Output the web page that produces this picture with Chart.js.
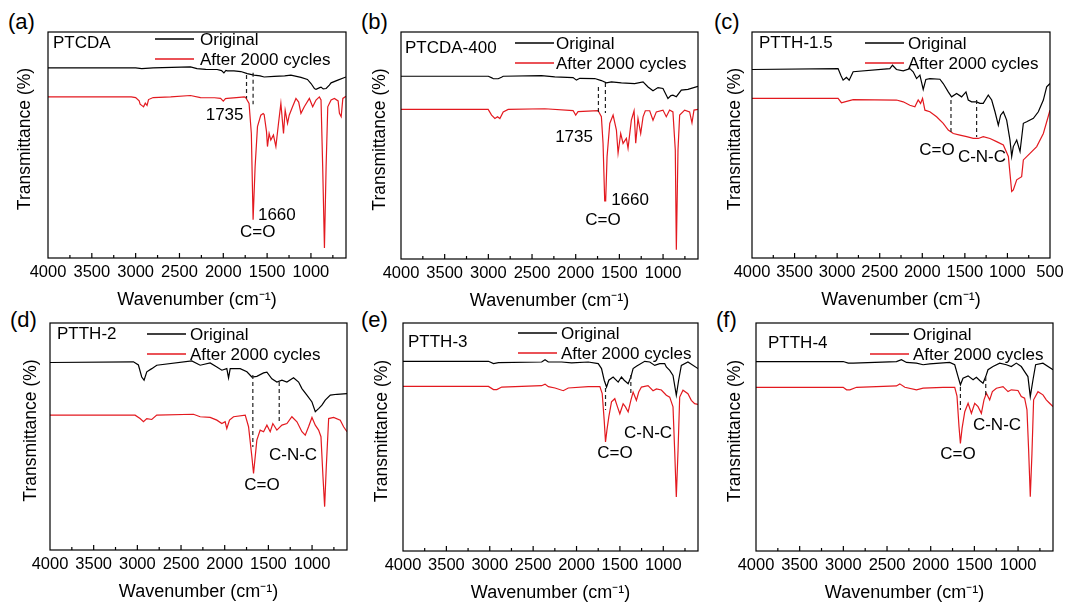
<!DOCTYPE html>
<html>
<head>
<meta charset="utf-8">
<script src="https://cdn.jsdelivr.net/npm/chart.js@4.4.0/dist/chart.umd.min.js"></script>
<style>
  body { margin: 0; background: #fff; width: 1067px; height: 606px; position: relative; overflow: hidden;
         font-family: "Liberation Sans", Arial, Helvetica, sans-serif; }
  canvas { position: absolute; }
  .tag { position: absolute; font-size: 22px; line-height: 22px; color: #000; }
</style>
</head>
<body>
<div class="tag" style="left:8px;top:11px">(a)</div>
<div class="tag" style="left:361px;top:11px">(b)</div>
<div class="tag" style="left:714px;top:11px">(c)</div>
<div class="tag" style="left:10px;top:309px">(d)</div>
<div class="tag" style="left:361px;top:309px">(e)</div>
<div class="tag" style="left:716px;top:309px">(f)</div>

<script>
const FONT = '"Liberation Sans", Arial, Helvetica, sans-serif';
const RED = "#e3191f";

// legend + axis text
const legendLabels = ["Original", "After 2000 cycles"];
const xTitle = "Wavenumber (cm\u207B\u00B9)";
const yTitle = "Transmittance (%)";
const xTicks = [4000, 3500, 3000, 2500, 2000, 1500, 1000];
const xTicksWide = [4000, 3500, 3000, 2500, 2000, 1500, 1000, 500];

// (a) PTCDA  [wavenumber, transmittance (arb.)]
const origA = [[4000,84.1],[3000,84.1],[2930,83.8],[2800,84.1],[2375,84.6],[2300,83.8],[2200,83.5],[2070,83.4],
  [2020,82.9],[1993,81.9],[1970,83.0],[1955,82.8],[1878,82.8],[1800,82.5],[1726,81.6],[1649,80.9],[1580,80.6],
  [1534,80.1],[1420,80.4],[1300,80.6],[1229,80.9],[1114,79.9],[1040,79.0],[999,77.2],[960,75.0],[942,74.6],
  [900,75.4],[885,75.6],[860,74.8],[827,75.0],[790,76.5],[770,77.5],[693,78.7],[600,80.1]];
const afterA = [[4000,71.3],[3050,71.3],[3000,71.0],[2960,69.5],[2949,68.1],[2920,67.2],[2910,66.9],[2890,68.5],
  [2870,67.5],[2853,70.1],[2800,71.0],[2600,71.3],[2375,71.9],[2260,71.0],[2100,70.9],[2031,70.6],[2000,69.4],
  [1975,70.5],[1955,70.6],[1850,71.0],[1760,71.3],[1745,71.0],[1706,68.4],[1680,55.1],[1660,16.9],[1637,40.4],
  [1610,58.1],[1572,63.2],[1545,63.9],[1534,63.5],[1507,55.9],[1496,49.3],[1477,55.1],[1458,52.2],[1428,54.4],
  [1400,49.3],[1370,59.6],[1343,68.4],[1313,55.1],[1294,65.4],[1267,59.6],[1248,63.2],[1210,66.9],[1171,70.6],
  [1140,69.0],[1114,64.0],[1076,66.9],[1018,70.6],[980,66.9],[942,69.9],[904,71.3],[885,69.9],[866,40.4],
  [846,4.4],[827,40.4],[808,66.9],[770,69.9],[732,70.6],[690,69.5],[675,64.0],[655,62.5],[636,70.6],[600,71.6]];

// (b) PTCDA-400
const origB = [[4000,80.5],[3000,80.5],[2960,79.8],[2944,79.4],[2887,79.4],[2850,80.1],[2830,80.5],[2392,80.8],
  [2240,80.2],[2030,79.9],[1992,78.8],[1953,79.6],[1782,79.5],[1706,78.6],[1649,77.6],[1591,78.0],[1477,77.6],
  [1325,77.3],[1229,78.0],[1172,75.8],[1115,74.1],[1058,75.5],[1001,75.1],[944,70.7],[910,72.0],[887,72.2],
  [848,71.5],[791,74.4],[715,74.7],[600,76.1]];
const afterB = [[4000,65.9],[3002,65.9],[2963,63.4],[2925,61.9],[2895,62.7],[2868,61.9],[2830,64.8],[2773,65.9],
  [2354,66.2],[2030,65.4],[2000,63.4],[1973,64.9],[1744,65.4],[1706,62.7],[1687,51.0],[1668,25.6],[1657,25.6],
  [1641,45.1],[1610,59.7],[1572,63.4],[1534,56.8],[1515,46.6],[1485,55.3],[1458,50.9],[1420,53.1],[1401,48.8],
  [1363,61.2],[1332,65.3],[1313,51.0],[1287,61.9],[1256,55.3],[1229,62.6],[1203,65.3],[1153,65.3],[1115,61.1],
  [1077,64.8],[1001,65.6],[963,62.7],[925,65.6],[887,64.8],[860,48.0],[848,4.1],[829,48.0],[810,63.4],
  [753,65.6],[696,64.8],[669,60.0],[646,65.6],[600,65.9]];

// (c) PTTH-1.5
const origC = [[4000,83.4],[2989,83.8],[2957,80.9],[2930,78.7],[2891,79.9],[2859,78.7],[2812,82.4],[2381,83.8],
  [2350,85.3],[2303,83.4],[2224,82.8],[2146,83.8],[2107,82.4],[2067,79.4],[2028,80.9],[1989,74.6],[1958,79.0],
  [1911,79.4],[1793,79.1],[1754,77.2],[1695,73.5],[1656,71.3],[1597,72.8],[1538,71.3],[1487,73.5],[1460,69.9],
  [1421,69.1],[1362,69.1],[1323,68.4],[1284,68.4],[1225,72.1],[1185,69.9],[1146,64.7],[1107,58.8],[1080,63.2],
  [1048,64.7],[1009,61.0],[970,52.2],[950,44.9],[931,49.3],[891,52.2],[852,47.1],[813,59.6],[774,60.3],
  [695,61.8],[637,64.7],[578,69.9],[539,75.7],[500,77.2]];
const afterC = [[4000,70.6],[2989,70.6],[2950,68.7],[2910,69.1],[2812,70.1],[2303,69.9],[2224,69.1],[2146,67.6],
  [2087,66.9],[2048,69.9],[2020,68.4],[1997,70.6],[1969,65.4],[1911,64.7],[1832,62.5],[1754,59.6],[1695,56.6],
  [1636,55.1],[1558,54.4],[1479,53.7],[1401,52.9],[1342,52.9],[1284,53.7],[1205,52.9],[1127,51.5],[1048,50.0],
  [989,44.9],[950,29.4],[931,30.1],[891,34.6],[833,36.0],[813,43.4],[735,46.3],[656,49.3],[578,55.1],[500,65.4]];

// (d) PTTH-2
const origD = [[4000,82.6],[3045,82.9],[2988,81.5],[2950,76.2],[2923,74.8],[2892,78.5],[2835,79.9],[2778,81.4],
  [2377,83.3],[2281,81.4],[2167,82.4],[2090,80.6],[2033,79.2],[1976,79.9],[1956,75.8],[1937,79.9],[1823,79.9],
  [1746,78.5],[1689,76.2],[1632,76.5],[1555,78.0],[1517,78.3],[1460,75.4],[1403,74.0],[1345,74.8],[1288,74.0],
  [1212,75.9],[1154,74.0],[1116,71.1],[1059,68.2],[1001,65.2],[963,60.9],[925,62.3],[887,63.8],[849,66.0],
  [791,68.2],[715,68.6],[600,68.9]];
const afterD = [[4000,59.4],[3026,59.4],[2969,57.9],[2930,56.5],[2892,57.9],[2835,57.5],[2778,59.4],[2358,59.8],
  [2281,58.7],[2167,58.4],[2090,57.2],[2033,55.7],[1995,56.5],[1976,53.5],[1945,57.2],[1899,58.7],[1765,59.4],
  [1727,54.3],[1689,41.1],[1670,33.7],[1651,41.1],[1632,48.4],[1594,52.8],[1555,52.1],[1517,55.0],[1479,52.1],
  [1449,55.7],[1403,52.8],[1345,55.0],[1288,55.7],[1231,58.7],[1173,56.5],[1116,52.1],[1078,50.6],[1040,54.3],
  [1001,58.4],[963,55.0],[925,52.8],[898,49.9],[875,32.3],[856,19.1],[837,36.7],[810,57.9],[753,58.4],
  [677,57.2],[639,54.3],[600,52.1]];

// (e) PTTH-3
const origE = [[4000,83.2],[3015,83.2],[2957,82.2],[2900,82.6],[2402,82.9],[2363,83.9],[2325,82.9],[2172,82.9],
  [2057,82.5],[1865,82.9],[1750,82.2],[1712,80.0],[1681,74.9],[1654,71.9],[1628,74.9],[1578,76.3],[1520,74.1],
  [1482,76.3],[1451,74.9],[1405,73.4],[1374,76.3],[1348,80.0],[1310,81.0],[1214,83.2],[1156,82.9],[1099,81.4],
  [1041,82.2],[984,82.2],[965,80.7],[926,79.2],[888,77.0],[850,68.3],[823,74.9],[792,81.4],[716,82.9],[600,80.0]];
const afterE = [[4000,72.2],[3015,72.2],[2957,70.8],[2919,70.8],[2862,71.9],[2402,72.5],[2363,73.2],[2325,72.1],
  [2248,71.5],[2153,70.3],[2095,71.5],[1865,72.1],[1731,72.1],[1704,69.0],[1681,57.3],[1666,47.8],[1650,52.9],
  [1628,58.8],[1597,65.4],[1559,66.8],[1528,63.2],[1501,60.2],[1463,64.6],[1436,63.2],[1405,61.0],[1374,66.1],
  [1348,69.7],[1310,66.1],[1283,69.7],[1252,71.9],[1176,72.5],[1118,70.3],[1079,71.1],[1022,70.6],[965,68.3],
  [926,67.5],[888,63.2],[869,44.2],[850,23.7],[830,44.2],[811,67.5],[773,70.5],[716,69.0],[677,66.1],
  [639,64.6],[600,64.3]];

// (f) PTTH-4
const origF = [[4000,83.1],[3002,83.1],[2944,82.4],[2887,82.4],[2392,83.1],[2335,83.9],[2277,82.7],[2163,82.4],
  [2087,81.7],[2011,82.1],[1782,82.7],[1725,81.7],[1687,76.5],[1660,72.9],[1630,75.8],[1572,76.8],[1515,75.1],
  [1477,76.2],[1439,74.8],[1401,73.6],[1370,76.5],[1344,79.5],[1287,80.9],[1210,82.4],[1134,81.7],[1077,80.9],
  [1020,82.4],[963,80.9],[925,78.7],[887,76.5],[860,67.7],[829,75.1],[799,81.7],[715,82.4],[600,79.5]];
const afterF = [[4000,71.8],[3002,71.8],[2963,70.7],[2925,70.7],[2849,71.8],[2392,72.4],[2354,73.3],[2296,71.8],
  [2163,70.7],[2087,71.4],[1858,71.8],[1725,71.8],[1699,67.9],[1676,54.5],[1660,47.2],[1641,53.8],[1610,61.1],
  [1572,64.8],[1534,60.4],[1496,64.8],[1458,63.3],[1420,60.4],[1390,66.3],[1363,69.2],[1325,66.3],[1294,69.9],
  [1248,71.4],[1172,72.1],[1115,69.9],[1077,70.7],[1001,70.4],[963,67.7],[925,67.0],[898,61.9],[879,44.3],
  [860,23.8],[841,42.8],[822,66.3],[772,69.9],[715,68.5],[677,66.3],[639,64.8],[600,63.3]];

// marker lines [wavenumber, from, to] and labels [text, wavenumber, value]
const dashA = [[1735, 81, 70.6], [1660, 82, 68]];
const noteA = [["1735", 1985, 63], ["1660", 1389, 19], ["C=O", 1607, 11.5]];
const dashB = [[1740, 75.8, 64.8], [1660, 77.5, 64.3]];
const noteB = [["1735", 2019, 53.7], ["1660", 1378, 26], ["C=O", 1687, 17.2]];
const dashC = [[1663, 69.9, 55.8], [1362, 69.9, 53.5]];
const noteC = [["C=O", 1827, 47.8], ["C-N-C", 1299, 44.7]];
const dashD = [[1678, 77.1, 45.4], [1376, 74, 56.4]];
const noteD = [["C-N-C", 1218, 41.9], ["C=O", 1573, 28.6]];
const dashE = [[1666, 71.5, 61.8], [1374, 77.2, 68.4]];
const noteE = [["C-N-C", 1176, 51.8], ["C=O", 1556, 43]];
const dashF = [[1660, 71.9, 61.8], [1370, 76.3, 67.5]];
const noteF = [["C-N-C", 1241, 55.3], ["C=O", 1687, 42.5]];

// layout: plot box [left, top, right, bottom] in page px
const panels = [
  { name: "PTCDA", box: [48, 32, 346, 258], xMin: 600, ticks: xTicks, orig: origA, after: afterA, dash: dashA, note: noteA, yGap: 23, leg: [107, 7, 6], nm: [5, 11] },
  { name: "PTCDA-400", box: [401, 32, 698, 259], xMin: 600, ticks: xTicks, orig: origB, after: afterB, dash: dashB, note: noteB, yGap: 21, leg: [114, 11, 2], nm: [4, 16] },
  { name: "PTTH-1.5", box: [752, 32, 1050, 258], xMin: 500, ticks: xTicksWide, orig: origC, after: afterC, dash: dashC, note: noteC, yGap: 17, leg: [113, 11, 4], nm: [7, 11] },
  { name: "PTTH-2", box: [50, 323, 347, 550], xMin: 600, ticks: xTicks, orig: origD, after: afterD, dash: dashD, note: noteD, yGap: 19, leg: [97, 11, 4], nm: [7, 11] },
  { name: "PTTH-3", box: [403, 323, 698, 551], xMin: 600, ticks: xTicks, orig: origE, after: afterE, dash: dashE, note: noteE, yGap: 21, leg: [115, 10, 4], nm: [5, 19] },
  { name: "PTTH-4", box: [756, 323, 1053, 551], xMin: 600, ticks: xTicks, orig: origF, after: afterF, dash: dashF, note: noteF, yGap: 21, leg: [114, 11, 4], nm: [12, 20] }
];

const Y_AXIS_W = 48, X_AXIS_H = 53, PAD_TOP = 32, PAD_RIGHT = 16;

// frame, inward ticks, y title, legend, sample name and peak marks
function makeDecor(p) {
    return {
        id: "decor",
        afterDatasetsDraw(chart) {
            const { ctx, chartArea: a, scales: { x, y } } = chart;
            ctx.save();
            ctx.strokeStyle = "#000";
            ctx.lineWidth = 1.2;
            ctx.strokeRect(a.left, a.top, a.right - a.left, a.bottom - a.top);

            for (let v = 4000 - 250; v > p.xMin; v -= 250) {
                const px = x.getPixelForValue(v);
                const len = v % 500 === 0 ? 5 : 3;
                ctx.beginPath();
                ctx.moveTo(px, a.bottom);
                ctx.lineTo(px, a.bottom - len);
                ctx.stroke();
            }

            ctx.setLineDash([4, 3]);
            ctx.strokeStyle = "#222";
            p.dash.forEach(([wn, y1, y2]) => {
                const px = x.getPixelForValue(wn);
                ctx.beginPath();
                ctx.moveTo(px, y.getPixelForValue(y1));
                ctx.lineTo(px, y.getPixelForValue(y2));
                ctx.stroke();
            });
            ctx.setLineDash([]);

            ctx.font = "17px " + FONT;
            ctx.fillStyle = "#000";
            ctx.textBaseline = "middle";
            ctx.textAlign = "center";
            p.note.forEach(([t, wn, v]) => ctx.fillText(t, x.getPixelForValue(wn), y.getPixelForValue(v)));

            // y title sits a little above the plot centre, as in the source
            ctx.save();
            ctx.translate(a.left - p.yGap, (a.top + a.bottom) / 2 - 6);
            ctx.rotate(-Math.PI / 2);
            ctx.font = "17.5px " + FONT;
            ctx.fillText(yTitle, 0, 0);
            ctx.restore();

            ctx.textAlign = "left";
            ctx.fillText(p.name, a.left + p.nm[0], a.top + p.nm[1]);

            const [dx, dy, gap] = p.leg;
            [["#000", legendLabels[0]], [RED, legendLabels[1]]].forEach(([c, t], i) => {
                const ly = a.top + dy + i * 20;
                ctx.strokeStyle = c;
                ctx.lineWidth = 1.4;
                ctx.beginPath();
                ctx.moveTo(a.left + dx, ly);
                ctx.lineTo(a.left + dx + 39, ly);
                ctx.stroke();
                ctx.fillText(t, a.left + dx + 39 + gap, ly + 1);
            });
            ctx.restore();
        }
    };
}

panels.forEach(p => {
    const [L, T, R, B] = p.box;
    const cv = document.createElement("canvas");
    cv.width = (R - L) + Y_AXIS_W + PAD_RIGHT;
    cv.height = (B - T) + PAD_TOP + X_AXIS_H;
    cv.style.left = (L - Y_AXIS_W) + "px";
    cv.style.top = (T - PAD_TOP) + "px";
    document.body.appendChild(cv);

    new Chart(cv, {
        type: "line",
        data: {
            datasets: [
                { data: p.orig.map(([x, y]) => ({ x, y })), borderColor: "#000", borderWidth: 1.2, pointRadius: 0, tension: 0 },
                { data: p.after.map(([x, y]) => ({ x, y })), borderColor: RED, borderWidth: 1.2, pointRadius: 0, tension: 0 }
            ]
        },
        options: {
            responsive: false,
            animation: false,
            devicePixelRatio: 1,
            layout: { padding: { top: PAD_TOP, right: PAD_RIGHT, left: 0, bottom: 0 } },
            plugins: { legend: { display: false }, tooltip: { enabled: false } },
            scales: {
                x: {
                    type: "linear", reverse: true, min: p.xMin, max: 4000,
                    grid: { display: false }, border: { display: false },
                    afterBuildTicks: s => { s.ticks = p.ticks.map(v => ({ value: v })); },
                    ticks: { autoSkip: false, maxRotation: 0, minRotation: 0, padding: -3, color: "#000",
                             font: { size: 16.5, family: FONT }, callback: v => String(v) },
                    title: { display: true, text: xTitle, color: "#000", font: { size: 18, family: FONT }, padding: { top: 0, bottom: 0 } },
                    afterFit: s => { s.height = X_AXIS_H; }
                },
                y: {
                    min: 0, max: 100,
                    grid: { display: false }, border: { display: false },
                    ticks: { display: false },
                    title: { display: false },
                    afterFit: s => { s.width = Y_AXIS_W; }
                }
            }
        },
        plugins: [makeDecor(p)]
    });
});
</script>
</body>
</html>
